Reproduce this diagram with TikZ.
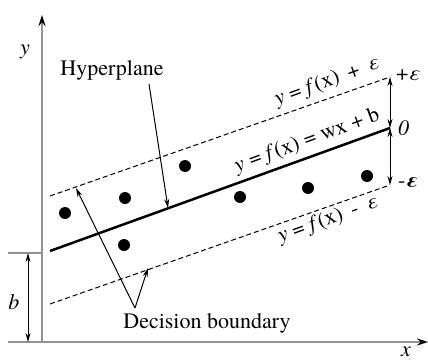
\documentclass[tikz,border=0pt]{standalone}
\usepackage{fontspec}
\setmainfont{texgyretermes}[Extension=.otf, UprightFont=*-regular, ItalicFont=*-italic, BoldFont=*-bold, BoldItalicFont=*-bolditalic]
\newfontfamily\grk{Liberation Serif}
\usetikzlibrary{arrows.meta}
\begin{document}
\begin{tikzpicture}[x=1pt,y=-1pt,
  axis/.style={draw=gray!85, line width=2.5pt, {Stealth[length=11pt,width=7pt,color=black]}-{Stealth[length=11pt,width=7pt,color=black]}},
  tick/.style={draw=gray!85, line width=1.5pt},
  lbl/.style={font=\fontsize{22}{26}\selectfont, inner sep=0pt},
  eq/.style={font=\fontsize{22}{26}\selectfont, inner sep=0pt, rotate=20},
  dot/.style={circle, fill=black, inner sep=0pt, minimum size=12pt},
  dbl/.style={line width=1pt, {Stealth[length=9pt,width=5pt]}-{Stealth[length=9pt,width=5pt]}},
  ptr/.style={line width=1pt, -{Stealth[length=9pt,width=5pt]}},
  bound/.style={line width=1pt, dash pattern=on 5pt off 3pt},
  reg/.style={line width=2.5pt},
  ]
\useasboundingbox (0,0) rectangle (428,361);

% axes
\coordinate (O) at (42,342);
\coordinate (Ytop) at (42,15);
\coordinate (Xend) at (428,342);
\draw[axis] (Ytop) -- (O) -- (Xend);
\node[lbl] (ylab) at (25,52) {\textit{y}};
\node[lbl] (xlab) at (406,352) {\textit{x}};

% b marker
\coordinate (bt1) at (8,253);
\coordinate (bt2) at (42,253);
\coordinate (bb1) at (8,342);
\coordinate (bb2) at (42,342);
\draw[tick] (bt1) -- (bt2);
\draw[tick] (bb1) -- (bb2);
\coordinate (b1) at (28,253);
\coordinate (b0) at (28,342);
\draw[dbl] (b1) -- (b0);
\node[lbl] (blab) at (14,302) {\textit{b}};

% lines
\coordinate (L1) at (50,251);
\coordinate (R1) at (390,128);
\coordinate (L2) at (50,196);
\coordinate (R2) at (390,77);
\coordinate (L3) at (50,304);
\coordinate (R3) at (390,185);
\draw[reg] (L1) -- (R1);
\draw[bound] (L2) -- (R2);
\draw[bound] (L3) -- (R3);

% epsilon arrows
\draw[dbl] (R2) -- (R1);
\draw[dbl] (R1) -- (R3);
\node[lbl, anchor=west] (pe) at (396,75) {+\textit{ε}};
\node[lbl, anchor=west] (ze) at (398,128) {\textit{0}};
\node[lbl, anchor=west] (me) at (398,183) {-\textbf{\textit{ε}}};

% equations
\node[eq] (equp) at (327,82) {\textit{y} = \textit{f}(x)\, + \,\textit{ε}};
\node[eq] (eqmid) at (307,141) {\textit{y} = \textit{f}(x) = wx + b};
\node[eq] (eqlow) at (328,220) {\textit{y} = \textit{f}(x)\, - \,\textit{ε}};

% dots
\node[dot] (d1) at (65,213) {};
\node[dot] (d2) at (125,198) {};
\node[dot] (d3) at (185,166) {};
\node[dot] (d4) at (124,245) {};
\node[dot] (d5) at (240,197) {};
\node[dot] (d6) at (308,188) {};
\node[dot] (d7) at (367,176) {};

% hyperplane
\node[lbl] (hyp) at (112,70) {Hyperplane};
\coordinate (hs) at (149,84);
\coordinate (he) at (168,208);
\draw[ptr] (hs) -- (he);

% decision boundary
\node[lbl] (dec) at (207,323) {Decision boundary};
\coordinate (ds) at (135,308);
\coordinate (de1) at (76,188);
\coordinate (de2) at (148,268);
\draw[ptr] (ds) -- (de1);
\draw[ptr] (ds) -- (de2);
\end{tikzpicture}
\end{document}
